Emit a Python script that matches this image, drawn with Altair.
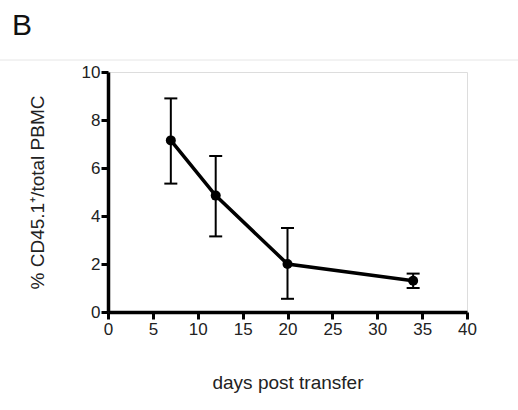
import altair as alt
import pandas as pd

days = [7, 12, 20, 34]
mean = [7.15, 4.85, 2.0, 1.3]
lower = [5.35, 3.15, 0.55, 1.0]
upper = [8.9, 6.5, 3.5, 1.6]

df = pd.DataFrame({"days": days, "mean": mean, "lower": lower, "upper": upper})
FONT = "Liberation Sans"

xs = alt.Scale(domain=[0, 40], nice=False)
ys = alt.Scale(domain=[0, 10], nice=False)

base = alt.Chart(df)

common = dict(domainWidth=3.5, domainColor="black", tickWidth=3, tickColor="black",
              tickSize=7, labelFontSize=17, labelFont=FONT, labelColor="#222",
              labelFlush=False, labelOverlap=False,
              titleFontSize=19, titleFont=FONT, titleFontWeight="normal",
              titleColor="#222", grid=False)
x_axis = alt.Axis(values=[0, 5, 10, 15, 20, 25, 30, 35, 40], title="days post transfer",
                  labelPadding=2, titlePadding=36, **common)
y_axis = alt.Axis(values=[0, 2, 4, 6, 8, 10], title="% CD45.1⁺/total PBMC",
                  labelPadding=1, titlePadding=34, **common)

line = base.mark_line(color="black", strokeWidth=3.5).encode(
    x=alt.X("days:Q", scale=xs, axis=x_axis),
    y=alt.Y("mean:Q", scale=ys, axis=y_axis),
)
pts = base.mark_point(filled=True, color="black", size=100, opacity=1).encode(
    x=alt.X("days:Q", scale=xs), y=alt.Y("mean:Q", scale=ys))
rule = base.mark_rule(color="black", strokeWidth=2).encode(
    x=alt.X("days:Q", scale=xs), y=alt.Y("lower:Q", scale=ys), y2="upper:Q")
cap_lo = base.mark_tick(color="black", orient="horizontal", size=13, thickness=2, opacity=1).encode(
    x=alt.X("days:Q", scale=xs), y=alt.Y("lower:Q", scale=ys))
cap_hi = base.mark_tick(color="black", orient="horizontal", size=13, thickness=2, opacity=1).encode(
    x=alt.X("days:Q", scale=xs), y=alt.Y("upper:Q", scale=ys))

letter = alt.Chart(pd.DataFrame({"t": ["B"]})).mark_text(
    font=FONT, fontSize=30, align="left", baseline="alphabetic", color="#111"
).encode(text="t:N", x=alt.value(-96), y=alt.value(-37))
hline = alt.Chart(pd.DataFrame({"t": [0]})).mark_rule(color="#e6e6e6", strokeWidth=1).encode(
    x=alt.value(-108), x2=alt.value(410), y=alt.value(-12))

chart = alt.layer(hline, letter, line, rule, cap_lo, cap_hi, pts).properties(
    width=359, height=240,
    autosize=alt.AutoSizeParams(type="none"),
    padding={"left": 108, "top": 72, "right": 51, "bottom": 98},
).configure_view(stroke=None).configure(background="white")

chart.save("out.html", embed_options={"renderer": "svg", "actions": False})
